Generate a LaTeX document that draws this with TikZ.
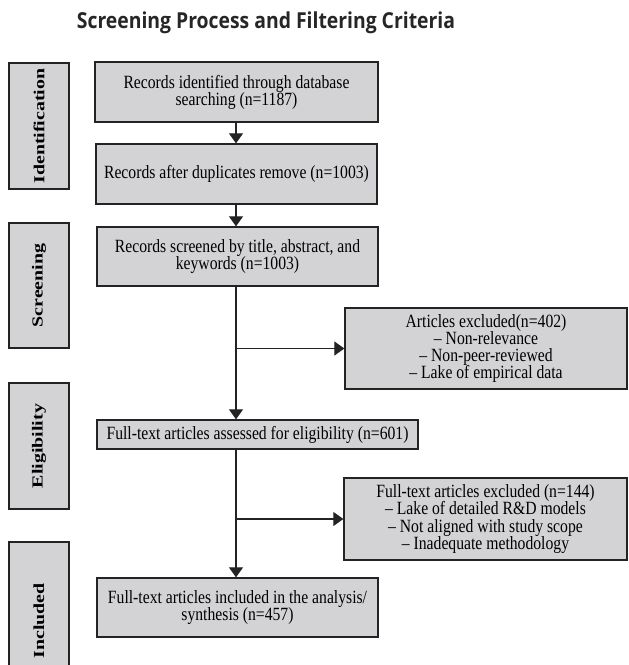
\documentclass[tikz,border=0pt]{standalone}
\usepackage{fontspec}
\setmainfont{Liberation Serif}
\newfontfamily\titlefont{Open Sans}[FakeStretch=0.88]
\newfontfamily\boxfont{Liberation Serif}[FakeStretch=0.84, Ligatures=TeX]
\newfontfamily\stagefont{Liberation Serif}[FakeStretch=1.3]
\newcommand\boxtext{\boxfont\fontsize{14}{12.8}\selectfont\lineskiplimit=-20pt\relax}
\usetikzlibrary{arrows.meta}
\definecolor{boxgray}{RGB}{211,211,213}
\definecolor{linegray}{RGB}{35,35,35}
\begin{document}
\begin{tikzpicture}[x=0.75pt, y=-0.75pt,
	flowbox/.style={shape=rectangle, draw=linegray, fill=boxgray, line width=1pt, inner sep=2pt, align=center, font=\boxtext},
	stagebox/.style={shape=rectangle, draw=linegray, fill=boxgray, line width=1pt, rotate=90, minimum height=45pt, inner sep=0pt, font=\stagefont\bfseries\fontsize{11.5}{12}\selectfont},
	wire/.style={draw=linegray, line width=0.8pt},
	arrow/.style={wire, -{Triangle[width=10.5pt, length=7.5pt]}}]
	\useasboundingbox (0, 0) rectangle (629, 665);
	\clip (0, 0) rectangle (629, 665);
	% Title:
	\node[font=\titlefont\bfseries\fontsize{16.5}{18}\selectfont, text=black!85] (title) at (266, 23){Screening Process and Filtering Criteria};
	% Stages on the left:
	\node[stagebox, minimum width=94.5pt] (sid) at (39, 126){Identification};
	\node[stagebox, minimum width=93.75pt] (sscr) at (39, 285.5){Screening};
	\node[stagebox, minimum width=94.5pt] (selig) at (39, 446){Eligibility};
	\node[stagebox, minimum width=118.5pt] (sinc) at (39, 621){Included};
	% Boxes of the main column:
	\node[flowbox, minimum width=212.25pt, minimum height=45pt] (ident) at (236.5, 92){Records identified through database\\searching (n=1187)};
	\node[flowbox, minimum width=210.75pt, minimum height=45pt] (dupl) at (236.5, 174){Records after duplicates remove (n=1003)};
	\node[flowbox, minimum width=210.75pt, minimum height=44.25pt] (scr) at (237.5, 256.5){Records screened by title, abstract, and\\keywords (n=1003)};
	\node[flowbox, minimum width=240.75pt, minimum height=21.75pt] (elig) at (257.5, 434.5){Full-text articles assessed for eligibility (n=601)};
	\node[flowbox, minimum width=210.75pt, minimum height=44.25pt] (incl) at (237.5, 607.5){Full-text articles included in the analysis/\\synthesis (n=457)};
	% Excluded records:
	\node[flowbox, minimum width=211.5pt, minimum height=60.75pt] (excl1) at (486, 348.5){Articles excluded(n=402)\\-- Non-relevance\\-- Non-peer-reviewed\\-- Lake of empirical data};
	\node[flowbox, minimum width=212.25pt, minimum height=61.5pt] (excl2) at (485.5, 519){Full-text articles excluded (n=144)\\-- Lake of detailed R\&D models\\-- Not aligned with study scope\\-- Inadequate methodology};
	% Arrows:
	\coordinate (trunk) at (236, 0);
	\draw[arrow] (trunk |- ident.south) -- (trunk |- dupl.north);
	\draw[arrow] (trunk |- dupl.south) -- (trunk |- scr.north);
	\draw[arrow] (trunk |- scr.south) -- (trunk |- elig.north);
	\draw[arrow] (trunk |- excl1.west) -- (excl1.west);
	\draw[arrow] (trunk |- elig.south) -- (trunk |- incl.north);
	\draw[arrow] (trunk |- excl2.west) -- (excl2.west);
\end{tikzpicture}
\end{document}
